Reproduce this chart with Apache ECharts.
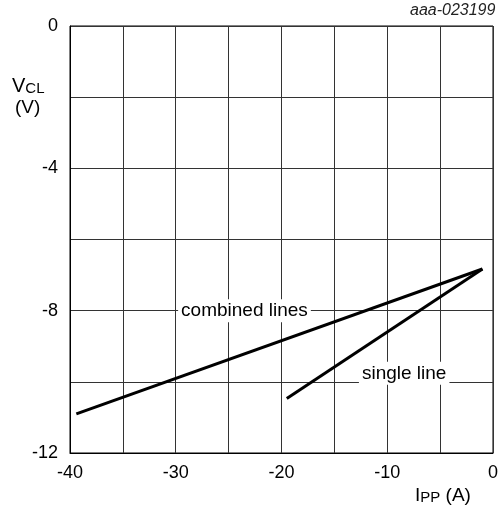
<!DOCTYPE html>
<html>
<head>
<meta charset="utf-8">
<script src="https://cdn.jsdelivr.net/npm/echarts@6/dist/echarts.min.js"></script>
<style>html,body{margin:0;padding:0;background:#fff;}#c{width:501px;height:506px;}</style>
</head>
<body>
<div id="c"></div>
<script>
// Data (I_PP in A, V_CL in V)
var combinedLines = [[-39.4, -10.9], [-1.0, -6.83]];
var singleLine = [[-19.5, -10.47], [-1.0, -6.83]];
var xTicks = [-40, -30, -20, -10, 0];
var yTicks = [0, -4, -8, -12];
var seriesNames = ['combined lines', 'single line'];

var FONT = 'Liberation Sans, Arial, sans-serif';
var chart = echarts.init(document.getElementById('c'), null, {renderer: 'canvas'});
chart.setOption({
  animation: false,
  backgroundColor: '#fff',
  grid: {left: 70, right: 3, top: 26, bottom: 53, show: true, borderColor: '#000', borderWidth: 1, backgroundColor: 'transparent'},
  xAxis: {
    type: 'value', min: -40, max: 0, interval: 5,
    axisLine: {show: true, onZero: false, lineStyle: {color: '#000', width: 1}},
    axisTick: {show: false},
    splitLine: {show: true, lineStyle: {color: '#333', width: 1}},
    axisLabel: {
      margin: 11, color: '#000', fontSize: 18, fontFamily: FONT,
      formatter: function (v) { return xTicks.indexOf(v) >= 0 ? String(v) : ''; }
    }
  },
  yAxis: {
    type: 'value', min: -12, max: 0, interval: 2,
    axisLine: {show: true, onZero: false, lineStyle: {color: '#000', width: 1}},
    axisTick: {show: false},
    splitLine: {show: true, lineStyle: {color: '#333', width: 1}},
    axisLabel: {
      margin: 12, color: '#000', fontSize: 18, fontFamily: FONT,
      formatter: function (v) { return yTicks.indexOf(v) >= 0 ? String(v) : ''; }
    }
  },
  series: [
    {
      name: seriesNames[0], type: 'line', data: combinedLines, symbol: 'none',
      lineStyle: {color: '#000', width: 3},
      markPoint: {
        symbol: 'rect', symbolSize: 0,
        data: [{coord: [-23.5, -8.0]}],
        label: {show: true, position: 'inside', formatter: seriesNames[0], color: '#000', fontSize: 19, fontFamily: FONT,
          backgroundColor: '#fff', padding: [2, 3]}
      }
    },
    {
      name: seriesNames[1], type: 'line', data: singleLine, symbol: 'none',
      lineStyle: {color: '#000', width: 3},
      markPoint: {
        symbol: 'rect', symbolSize: 0,
        data: [{coord: [-8.4, -9.76]}],
        label: {show: true, position: 'inside', formatter: seriesNames[1], color: '#000', fontSize: 19, fontFamily: FONT,
          backgroundColor: '#fff', padding: [2, 3]}
      }
    }
  ],
  graphic: [
    {type: 'text', left: 410, top: 3, style: {text: 'aaa-023199', fontSize: 16, fontStyle: 'italic', fontFamily: FONT, fill: '#222'}},
    {type: 'text', left: 12, top: 76, style: {
      rich: {m: {fontSize: 20, fontFamily: FONT, fill: '#000'}, s: {fontSize: 15, fontFamily: FONT, fill: '#000', padding: [6, 0, 0, 0]}},
      text: '{m|V}{s|CL}', fill: '#000'}},
    {type: 'text', left: 15, top: 98, style: {text: '(V)', fontSize: 19, fontFamily: FONT, fill: '#000'}},
    {type: 'text', left: 415, top: 486, style: {
      rich: {m: {fontSize: 19, fontFamily: FONT, fill: '#000'}, s: {fontSize: 15, fontFamily: FONT, fill: '#000', padding: [5, 0, 0, 0]}},
      text: '{m|I}{s|PP}{m| (A)}', fill: '#000'}}
  ]
});
</script>
</body>
</html>
